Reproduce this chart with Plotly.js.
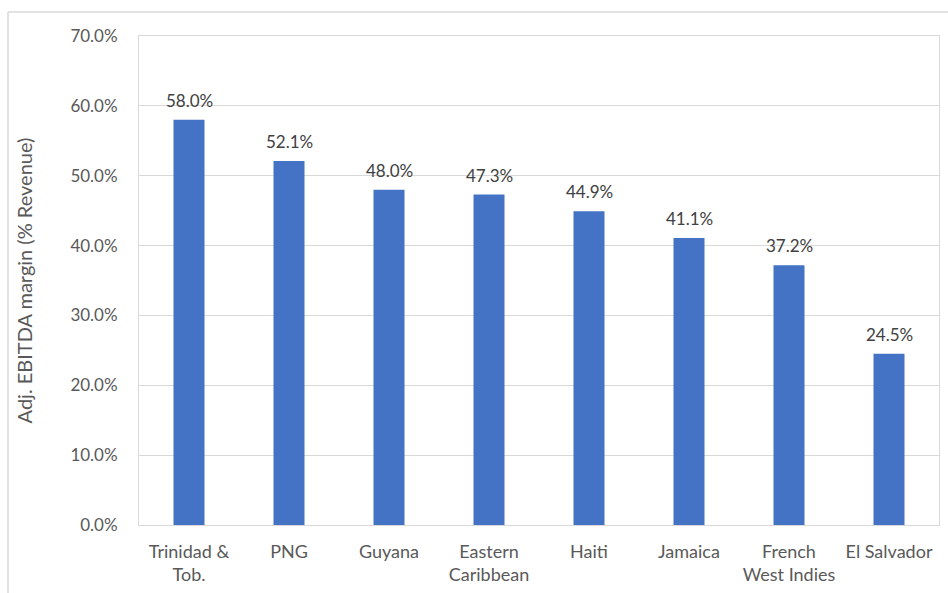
<!DOCTYPE html>
<html><head><meta charset="utf-8">
<script src="https://cdn.plot.ly/plotly-3.0.1.min.js"></script>
<style>html,body{margin:0;padding:0;background:#fff}#c{width:948px;height:593px}</style>
</head><body><div id="c"></div>
<script>
const categories = ["Trinidad &<br>Tob.", "PNG", "Guyana", "Eastern<br>Caribbean", "Haiti", "Jamaica", "French<br>West Indies", "El Salvador"];
const margins = [58.0, 52.1, 48.0, 47.3, 44.9, 41.1, 37.2, 24.5];
const labels = margins.map(v => v.toFixed(1) + "%");
const yTicks = [0, 10, 20, 30, 40, 50, 60, 70];
const yTickText = yTicks.map(v => v.toFixed(1) + "%");

const font = "Lato, 'Open Sans', sans-serif";
const L = 139, R = 9, T = 36, B = 68, W = 948, H = 593;
const pw = W - L - R, ph = H - T - B;
const px = x => (x - L) / pw;
const py = y => 1 - (y - T) / ph;

const annotations = categories.map((c, i) => ({
  x: c, y: margins[i], xref: "x", yref: "y",
  text: labels[i], showarrow: false, yanchor: "bottom", yshift: 7,
  font: {family: font, size: 17, color: "#404040"}
}));

Plotly.newPlot("c", [{
  type: "bar",
  x: categories,
  y: margins,
  marker: {color: "#4472C4"},
  hoverinfo: "skip"
}], {
  width: W, height: H,
  margin: {l: L, r: R, t: T, b: B},
  paper_bgcolor: "#fff", plot_bgcolor: "#fff",
  bargap: 0.69,
  showlegend: false,
  font: {family: font, color: "#595959", size: 17},
  xaxis: {
    showgrid: false, showline: true, linecolor: "#d9d9d9", linewidth: 1,
    mirror: true, ticks: "", tickfont: {size: 18, color: "#595959"},
    ticklabelstandoff: 10
  },
  yaxis: {
    range: [0, 70], tickvals: yTicks, ticktext: yTickText,
    showgrid: true, gridcolor: "#d9d9d9", gridwidth: 1,
    showline: true, linecolor: "#d9d9d9", mirror: true, zeroline: false,
    ticks: "", tickfont: {size: 17, color: "#595959"},
    ticklabelstandoff: 17,
    title: {text: "Adj. EBITDA margin (% Revenue)", font: {size: 20, color: "#595959"}, standoff: 32}
  },
  annotations: annotations,
  shapes: [
    {type: "line", xref: "paper", yref: "paper", x0: px(8), x1: px(960), y0: py(12), y1: py(12), line: {color: "#d9d9d9", width: 1.5}},
    {type: "line", xref: "paper", yref: "paper", x0: px(8), x1: px(8), y0: py(12), y1: py(600), line: {color: "#d9d9d9", width: 1.5}}
  ]
}, {displayModeBar: false, staticPlot: true});
</script></body></html>
